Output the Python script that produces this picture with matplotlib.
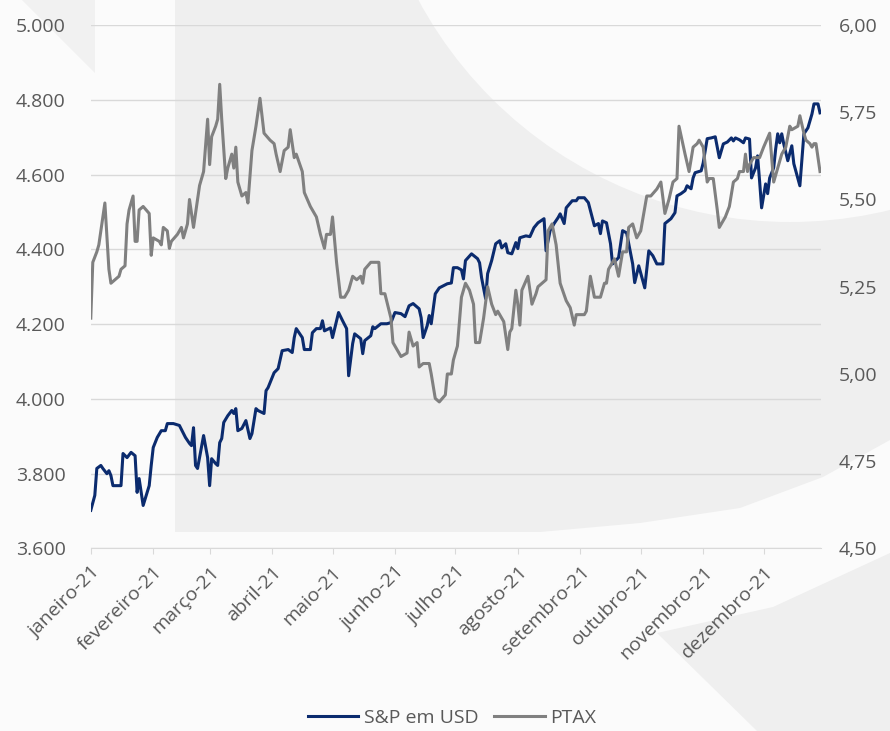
import numpy as np
import pandas as pd
import matplotlib
matplotlib.use("Agg")
import matplotlib.pyplot as plt
from matplotlib.patches import Polygon, Circle
from matplotlib.lines import Line2D

plt.rcParams["font.family"] = ["Open Sans", "DejaVu Sans"]

# dias corridos desde 01/01/2021
dias_sp = [
    0, 2, 3, 5, 6, 8, 9, 10, 11, 15, 16, 18, 20, 22, 23, 24, 26, 29, 30, 31,
    33, 35, 37, 38, 41, 44, 47, 49, 50, 51, 52, 53, 56, 58, 59, 60, 62, 63, 64, 65,
    66, 68, 70, 71, 72, 73, 75, 77, 79, 80, 82, 83, 86, 87, 88, 91, 93, 95, 98, 100,
    101, 102, 105, 106, 109, 110, 112, 114, 115, 116, 119, 120, 122, 123, 125, 127, 128, 130, 131, 134,
    135, 136, 139, 140, 141, 144, 147, 149, 151, 154, 156, 158, 160, 163, 164, 165, 167, 168, 169, 171,
    173, 177, 179, 180, 182, 184, 185, 186, 189, 192, 193, 194, 196, 197, 199, 201, 203, 204, 206, 207,
    209, 211, 212, 213, 216, 218, 220, 222, 225, 226, 228, 230, 232, 233, 235, 236, 239, 241, 242, 245,
    247, 250, 252, 253, 254, 256, 258, 259, 262, 264, 266, 269, 270, 272, 275, 277, 279, 281, 284, 285,
    288, 290, 291, 293, 295, 296, 298, 299, 300, 303, 304, 306, 308, 310, 312, 314, 316, 318, 319, 320,
    322, 324, 325, 327, 328, 330, 331, 332, 333, 335, 336, 337, 339, 340, 341, 342, 343, 344, 346, 348,
    349, 352, 354, 356, 358, 359, 361, 362,
]
sp_usd = [
    3702, 3742, 3814, 3822, 3814, 3800, 3808, 3795, 3768, 3768, 3854, 3843, 3857, 3848, 3750, 3787, 3715, 3768, 3822, 3870,
    3897, 3915, 3915, 3934, 3934, 3929, 3897, 3881, 3875, 3923, 3822, 3814, 3902, 3843, 3768, 3840, 3827, 3822, 3883, 3894,
    3937, 3955, 3969, 3961, 3974, 3915, 3921, 3942, 3894, 3907, 3974, 3969, 3961, 4022, 4030, 4070, 4081, 4129, 4132, 4124,
    4164, 4188, 4164, 4132, 4132, 4177, 4188, 4188, 4209, 4182, 4190, 4164, 4209, 4231, 4209, 4188, 4062, 4148, 4174, 4161,
    4121, 4156, 4169, 4193, 4188, 4201, 4201, 4204, 4231, 4228, 4220, 4249, 4255, 4241, 4217, 4164, 4196, 4223, 4201, 4281,
    4297, 4308, 4310, 4351, 4351, 4345, 4321, 4370, 4388, 4375, 4364, 4324, 4268, 4335, 4370, 4415, 4423, 4404, 4415, 4391,
    4388, 4418, 4402, 4431, 4436, 4434, 4458, 4471, 4482, 4396, 4450, 4469, 4485, 4495, 4469, 4511, 4530, 4530, 4538, 4538,
    4525, 4463, 4469, 4442, 4476, 4471, 4415, 4361, 4378, 4450, 4444, 4361, 4311, 4356, 4297, 4396, 4383, 4361, 4361, 4469,
    4482, 4498, 4543, 4549, 4557, 4570, 4562, 4591, 4605, 4610, 4631, 4696, 4698, 4701, 4645, 4682, 4687, 4698, 4690, 4698,
    4693, 4685, 4698, 4695, 4591, 4618, 4650, 4583, 4511, 4575, 4549, 4591, 4618, 4669, 4709, 4685, 4709, 4682, 4637, 4677,
    4629, 4570, 4709, 4725, 4762, 4789, 4789, 4765,
]

dias_ptax = [
    0, 1, 3, 4, 6, 7, 9, 10, 12, 14, 15, 17, 18, 19, 21, 22, 23, 24, 26, 29,
    30, 31, 34, 35, 36, 38, 39, 40, 43, 45, 46, 48, 49, 51, 53, 54, 56, 58, 59, 60,
    62, 63, 64, 65, 67, 68, 70, 71, 72, 73, 75, 77, 78, 80, 82, 84, 86, 89, 91, 92,
    94, 96, 98, 99, 101, 102, 105, 106, 109, 112, 114, 116, 117, 119, 120, 122, 124, 126, 128, 130,
    132, 134, 135, 136, 139, 140, 143, 144, 146, 149, 150, 153, 154, 157, 158, 160, 162, 163, 165, 168,
    169, 171, 173, 176, 177, 179, 180, 182, 184, 186, 188, 190, 191, 193, 195, 197, 199, 201, 202, 205,
    207, 208, 209, 211, 212, 213, 214, 217, 219, 221, 222, 226, 227, 229, 231, 233, 236, 238, 240, 241,
    245, 246, 248, 250, 253, 255, 256, 257, 259, 260, 262, 264, 266, 267, 269, 271, 273, 276, 278, 281,
    283, 285, 287, 289, 291, 292, 295, 297, 299, 301, 302, 304, 306, 307, 309, 311, 312, 315, 317, 319,
    321, 322, 324, 325, 326, 327, 329, 332, 334, 337, 339, 341, 343, 345, 347, 348, 351, 352, 354, 355,
    357, 358, 359, 360, 361, 362,
]
ptax = [
    5.16, 5.32, 5.35, 5.37, 5.45, 5.49, 5.30, 5.26, 5.27, 5.28, 5.30, 5.31, 5.43, 5.47, 5.51, 5.38, 5.38, 5.47, 5.48, 5.46,
    5.34, 5.39, 5.38, 5.37, 5.42, 5.41, 5.36, 5.38, 5.40, 5.42, 5.39, 5.43, 5.50, 5.42, 5.50, 5.54, 5.58, 5.73, 5.60, 5.68,
    5.71, 5.73, 5.83, 5.73, 5.56, 5.59, 5.63, 5.59, 5.65, 5.55, 5.51, 5.52, 5.49, 5.64, 5.71, 5.79, 5.69, 5.67, 5.66, 5.63,
    5.58, 5.64, 5.65, 5.70, 5.62, 5.63, 5.58, 5.52, 5.48, 5.45, 5.40, 5.36, 5.40, 5.40, 5.45, 5.32, 5.22, 5.22, 5.24, 5.28,
    5.27, 5.28, 5.26, 5.30, 5.32, 5.32, 5.32, 5.23, 5.23, 5.16, 5.09, 5.06, 5.05, 5.06, 5.12, 5.08, 5.09, 5.02, 5.03, 5.03,
    5.00, 4.93, 4.92, 4.94, 5.00, 5.00, 5.04, 5.08, 5.22, 5.26, 5.24, 5.20, 5.09, 5.09, 5.16, 5.25, 5.20, 5.17, 5.18, 5.15,
    5.07, 5.12, 5.13, 5.24, 5.20, 5.14, 5.24, 5.28, 5.20, 5.23, 5.25, 5.27, 5.41, 5.43, 5.37, 5.26, 5.21, 5.19, 5.14, 5.17,
    5.17, 5.18, 5.28, 5.22, 5.22, 5.26, 5.26, 5.30, 5.32, 5.33, 5.28, 5.35, 5.35, 5.42, 5.43, 5.39, 5.41, 5.51, 5.51, 5.53,
    5.55, 5.46, 5.50, 5.55, 5.56, 5.71, 5.63, 5.58, 5.65, 5.66, 5.67, 5.65, 5.55, 5.56, 5.56, 5.47, 5.42, 5.45, 5.48, 5.55,
    5.56, 5.58, 5.58, 5.63, 5.58, 5.60, 5.62, 5.62, 5.65, 5.69, 5.55, 5.59, 5.63, 5.65, 5.71, 5.70, 5.71, 5.74, 5.69, 5.67,
    5.66, 5.65, 5.66, 5.66, 5.62, 5.58,
]

meses = [
    "janeiro-21", "fevereiro-21", "março-21", "abril-21", "maio-21", "junho-21",
    "julho-21", "agosto-21", "setembro-21", "outubro-21", "novembro-21", "dezembro-21",
]

AZUL = "#0b2b6e"
CINZA = "#808080"
TEXTO = "#595959"
GRADE = "#d9d9d9"

inicio = pd.Timestamp("2021-01-01")
datas_sp = inicio + pd.to_timedelta(dias_sp, unit="D")
datas_ptax = inicio + pd.to_timedelta(dias_ptax, unit="D")

fig = plt.figure(figsize=(8.9, 7.31), dpi=100)
fig.patch.set_facecolor("#fbfbfb")

# marca d'agua de fundo (em pixels da imagem)
bg = fig.add_axes([0, 0, 1, 1], zorder=0)
bg.set_xlim(0, 890)
bg.set_ylim(731, 0)
bg.axis("off")
fundo = "#efefef"
bg.add_patch(Polygon([(22, 0), (95, 0), (95, 73)], closed=True, fc="#f1f1f1", ec="none"))
bg.add_patch(Polygon(
    [(175, 0), (890, 0), (890, 440), (823, 477), (740, 508), (640, 523),
     (540, 532), (175, 532)],
    closed=True, fc=fundo, ec="none"))
bg.add_patch(Circle((790, -200), 422, fc="#fbfbfb", ec="none"))
bg.add_patch(Polygon(
    [(657, 633), (773, 607), (890, 553), (890, 731), (757, 731)],
    closed=True, fc=fundo, ec="none"))

ax = fig.add_axes([0.1020, 0.2497, 0.8205, 0.7161], zorder=1)
ax.patch.set_alpha(0)
ax2 = ax.twinx()

ax.plot(datas_sp, sp_usd, color=AZUL, lw=2.2, label="S&P em USD")
ax2.plot(datas_ptax, ptax, color=CINZA, lw=2.2, label="PTAX")

ax.set_xlim(inicio, inicio + pd.Timedelta(days=362.5))
ax.set_ylim(3600, 5000)
ax.set_yticks(np.arange(3600, 5001, 200))
ax.set_yticklabels([f"{v:,.0f}".replace(",", ".") for v in np.arange(3600, 5001, 200)])
ax2.set_ylim(4.5, 6.0)
ax2.set_yticks(np.arange(4.5, 6.01, 0.25))
ax2.set_yticklabels([f"{v:.2f}".replace(".", ",") for v in np.arange(4.5, 6.01, 0.25)])

ax.grid(axis="y", color=GRADE, lw=1)
ax.set_axisbelow(True)
for s in ["top", "left", "right"]:
    ax.spines[s].set_visible(False)
ax.spines["bottom"].set_color(GRADE)
for s in ax2.spines.values():
    s.set_visible(False)

ticks = pd.date_range("2021-01-01", periods=12, freq="MS")
ax.set_xticks(ticks)
ax.set_xticklabels(meses, rotation=45, ha="right", va="top", rotation_mode="anchor")

ax.tick_params(axis="x", length=4.5, color=GRADE, pad=6, labelsize=14, labelcolor=TEXTO)
ax.tick_params(axis="y", length=0, pad=18, labelsize=14, labelcolor=TEXTO)
ax2.tick_params(axis="y", length=0, pad=13, labelsize=14, labelcolor=TEXTO)

handles = [Line2D([], [], color=AZUL, lw=2.2), Line2D([], [], color=CINZA, lw=2.2)]
fig.legend(handles, ["S&P em USD", "PTAX"], loc="center", bbox_to_anchor=(452 / 890, 1 - 718 / 731),
           ncol=2, frameon=False, fontsize=14, labelcolor=TEXTO, handlelength=2.6,
           handletextpad=0.3, columnspacing=0.8)

fig.savefig("out.png", dpi=100, facecolor=fig.get_facecolor())
